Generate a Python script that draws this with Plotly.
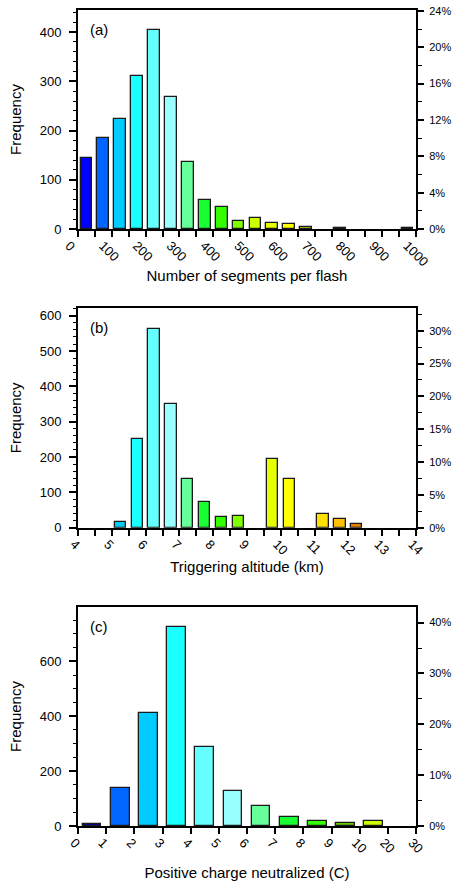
import plotly.graph_objects as go

# ---------------- data ----------------
# (a) Number of segments per flash, bins of 50 from 0 to 1000
seg_edges = [0, 50, 100, 150, 200, 250, 300, 350, 400, 450, 500,
             550, 600, 650, 700, 750, 800, 850, 900, 950]
seg_counts = [145, 184, 223, 311, 404, 269, 136, 58, 44, 17, 23,
              13, 10, 5, 0, 3, 0, 0, 0, 2]
seg_colors = ["#0000FF", "#0066FF", "#00CCFF", "#1AFFFF", "#66FFFF", "#99FFFF",
              "#66FF99", "#1AFF33", "#33FF00", "#80FF00", "#CCFF00", "#E6FF00",
              "#FFFF00", "#CCCC00", "#B3B300", "#806633", "#804D00", "#993300",
              "#990000", "#990000"]
seg_ticks = [0, 50, 100, 150, 200, 250, 300, 350, 400, 450, 500, 550, 600,
             650, 700, 750, 800, 850, 900, 950, 1000]
seg_ticktext = ["0", "", "100", "", "200", "", "300", "", "400", "", "500", "",
                "600", "", "700", "", "800", "", "900", "", "1000"]

# (b) Triggering altitude (km), bins of 0.5 from 4 to 14
alt_edges = [4.0, 4.5, 5.0, 5.5, 6.0, 6.5, 7.0, 7.5, 8.0, 8.5, 9.0, 9.5,
             10.0, 10.5, 11.0, 11.5, 12.0, 12.5, 13.0, 13.5]
alt_counts = [0, 0, 17, 250, 562, 349, 139, 73, 29, 32, 0, 194,
              139, 0, 40, 25, 10, 0, 0, 0]
alt_colors = ["#0000FF", "#0066FF", "#00CCFF", "#1AFFFF", "#66FFFF", "#99FFFF",
              "#66FF99", "#1AFF33", "#33FF00", "#80FF00", "#CCFF00", "#E6FF00",
              "#FFFF00", "#FFEE00", "#FFE000", "#FFC000", "#E68000", "#CC4400",
              "#990000", "#990000"]
alt_ticks = [4, 4.5, 5, 5.5, 6, 6.5, 7, 7.5, 8, 8.5, 9, 9.5, 10, 10.5,
             11, 11.5, 12, 12.5, 13, 13.5, 14]
alt_ticktext = ["4", "", "5", "", "6", "", "7", "", "8", "", "9", "", "10", "",
                "11", "", "12", "", "13", "", "14"]

# (c) Positive charge neutralized (C), 12 categorical bins
chg_labels = ["0", "1", "2", "3", "4", "5", "6", "7", "8", "9", "10", "20", "30"]
chg_counts = [9, 138, 413, 724, 288, 127, 73, 33, 20, 11, 17, 0]
chg_colors = ["#0000AA", "#0066FF", "#00CCFF", "#1AFFFF", "#66FFFF", "#99FFFF",
              "#66FF99", "#1AFF33", "#33FF00", "#66CC00", "#CCFF00", "#CCCC00"]

# axis maxima of the frequency axes
seg_ymax = 445
alt_ymax = 622
chg_ymax = 798

FONT = "Liberation Sans, Arial, Helvetica, sans-serif"

fig = go.Figure()

panels = [
    dict(edges=seg_edges, counts=seg_counts, colors=seg_colors, width=35, binw=50,
         ticks=seg_ticks, ticktext=seg_ticktext, xr=[0, 1000], ymax=seg_ymax,
         ydt=100, ymin_dt=20, pdt=4, pmin=2, title="Number of segments per flash",
         label="(a)", dom=[0.7316, 1.0], shift=-9, tso=2),
    dict(edges=alt_edges, counts=alt_counts, colors=alt_colors, width=0.33, binw=0.5,
         ticks=alt_ticks, ticktext=alt_ticktext, xr=[4, 14], ymax=alt_ymax,
         ydt=100, ymin_dt=20, pdt=5, pmin=2.5, title="Triggering altitude (km)",
         label="(b)", dom=[0.3656, 0.6348], shift=-4, tso=4),
    dict(edges=list(range(len(chg_counts))), counts=chg_counts, colors=chg_colors,
         width=0.66, binw=1, ticks=list(range(len(chg_labels))), ticktext=chg_labels,
         xr=[0, len(chg_counts)], ymax=chg_ymax, ydt=200, ymin_dt=50, pdt=10, pmin=5,
         title="Positive charge neutralized (C)", label="(c)", dom=[0.0, 0.2684],
         shift=-4, tso=12),
]

layout = {}
for i, p in enumerate(panels):
    xa = "x" if i == 0 else f"x{i+1}"
    ya = "y" if i == 0 else f"y{2*i+1}"
    ya2 = f"y{2*i+2}"
    centers = [e + p["binw"] / 2 for e in p["edges"]]
    lw = [1.3 if c > 0 else 0 for c in p["counts"]]
    fig.add_trace(go.Bar(
        x=centers, y=p["counts"], width=p["width"], xaxis=xa, yaxis=ya,
        marker=dict(color=p["colors"], line=dict(color="#1a1a1a", width=lw)),
        showlegend=False, hoverinfo="x+y"))
    total = sum(p["counts"])
    fig.add_trace(go.Scatter(x=[p["xr"][0]], y=[0], xaxis=xa, yaxis=ya2, mode="markers",
                             marker=dict(opacity=0), showlegend=False, hoverinfo="skip"))

    xkey = "xaxis" if i == 0 else f"xaxis{i+1}"
    ykey = "yaxis" if i == 0 else f"yaxis{2*i+1}"
    y2key = f"yaxis{2*i+2}"
    layout[xkey] = dict(
        domain=[0, 1], anchor=ya, range=p["xr"], tickmode="array",
        tickvals=p["ticks"], ticktext=p["ticktext"], tickangle=45,
        ticks="outside", ticklen=6, tickwidth=1.5, tickcolor="black",
        ticklabelshift=p["shift"], ticklabelstandoff=-4,
        showline=True, linewidth=2, linecolor="black", mirror=True,
        showgrid=False, zeroline=False, automargin=False,
        tickfont=dict(family=FONT, size=13, color="black"),
        title=dict(text=p["title"], font=dict(family=FONT, size=15, color="black"),
                   standoff=p["tso"]),
        fixedrange=True)
    layout[ykey] = dict(
        domain=p["dom"], anchor=xa, range=[0, p["ymax"]], dtick=p["ydt"], tick0=0,
        ticks="outside", ticklen=7, tickwidth=1.5, tickcolor="black",
        minor=dict(dtick=p["ymin_dt"], ticks="outside", ticklen=3.5, tickwidth=1,
                   tickcolor="black"),
        showline=True, linewidth=2, linecolor="black", automargin=False,
        showgrid=False, zeroline=False, ticklabelstandoff=5,
        tickfont=dict(family=FONT, size=13, color="black"),
        title=dict(text="Frequency", font=dict(family=FONT, size=15, color="black"),
                   standoff=14),
        fixedrange=True)
    layout[y2key] = dict(
        overlaying=ya, side="right", anchor=xa,
        range=[0, p["ymax"] / total * 100], dtick=p["pdt"], tick0=0,
        ticksuffix="%", ticks="outside", ticklen=6, tickwidth=1.5, tickcolor="black",
        minor=dict(dtick=p["pmin"], ticks="outside", ticklen=3.5, tickwidth=1,
                   tickcolor="black"),
        showline=True, linewidth=2, linecolor="black", automargin=False,
        showgrid=False, zeroline=False, ticklabelstandoff=3,
        tickfont=dict(family=FONT, size=11, color="black"),
        fixedrange=True)

annotations = []
for i, p in enumerate(panels):
    xa = "x" if i == 0 else f"x{i+1}"
    ya = "y" if i == 0 else f"y{2*i+1}"
    annotations.append(dict(text=p["label"], xref=f"{xa} domain", yref=f"{ya} domain",
                            x=0.03, y=0.91, xanchor="left", yanchor="middle",
                            showarrow=False,
                            font=dict(family=FONT, size=15, color="black")))

fig.update_layout(
    template="none",
    width=452, height=882, margin=dict(l=78, r=36, t=10, b=56),
    paper_bgcolor="white", plot_bgcolor="white", bargap=0,
    annotations=annotations, **layout)

fig.write_html("out.html")
